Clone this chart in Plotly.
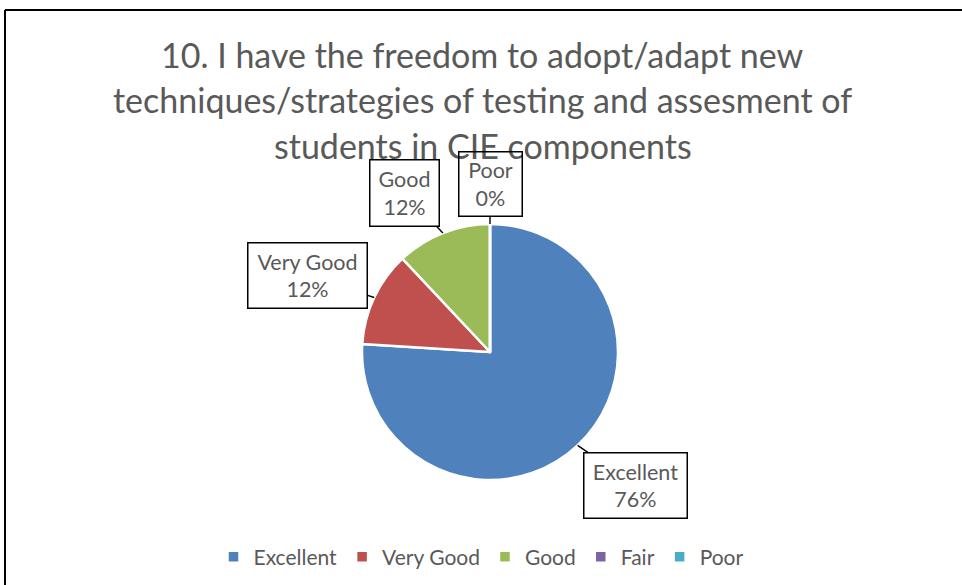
import math
import plotly.graph_objects as go

# Survey responses for statement 10
categories = ["Excellent", "Very Good", "Good", "Fair", "Poor"]
responses = [19, 3, 3, 0, 0]
colors = ["#4F81BD", "#C0504D", "#9BBB59", "#8064A2", "#4BACC6"]
title_lines = [
    "10. I have the freedom to adopt/adapt new",
    "techniques/strategies of testing and assesment of",
    "students in CIE components",
]

W, H = 962, 585
CX, CY, R = 490, 352, 128          # pie centre and radius (px)
FONT = "Lato, Calibri, Carlito, sans-serif"
GREY = "#595959"

# callout placement: (offset x, offset y, box width, box height) in px
callouts = {
    "Excellent": (58, 40, 102, 64),
    "Very Good": (-67, -22, 118, 64),
    "Good": (-38, -40, 68, 65),
    "Poor": (0, -40, 62, 63),
}

fig = go.Figure(go.Pie(
    labels=categories,
    values=responses,
    marker=dict(colors=colors, line=dict(color="white", width=2.5)),
    sort=False,
    direction="clockwise",
    rotation=0,
    textinfo="none",
    hoverinfo="label+percent",
    domain=dict(x=[(CX - R) / W, (CX + R) / W],
                y=[1 - (CY + R) / H, 1 - (CY - R) / H]),
))

total = sum(responses)
annotations = []

# three-line chart title
for i, line in enumerate(title_lines):
    annotations.append(dict(
        x=483 / W, y=1 - (54 + 45.5 * i) / H, xref="paper", yref="paper",
        text=line, showarrow=False, xanchor="center", yanchor="middle",
        font=dict(family=FONT, size=34, color=GREY),
    ))

cum = 0
for cat, val in zip(categories, responses):
    frac = val / total
    mid = (cum + frac / 2) * 2 * math.pi
    cum += frac
    if cat not in callouts:
        continue
    px = CX + R * math.sin(mid)
    py = CY - R * math.cos(mid)
    ox, oy, bw, bh = callouts[cat]
    annotations.append(dict(
        x=px / W, y=1 - py / H, xref="paper", yref="paper",
        text=f"{cat}<br>{round(100 * frac)}%",
        showarrow=True, arrowhead=0, arrowwidth=1.4, arrowcolor="black",
        ax=ox, ay=oy, standoff=0,
        bordercolor="black", borderwidth=1.5, borderpad=0, bgcolor="rgba(255,255,255,0)",
        width=bw, height=bh,
        font=dict(family=FONT, size=21.5, color=GREY),
    ))

fig.update_layout(
    width=W, height=H,
    margin=dict(l=0, r=0, t=0, b=0, autoexpand=False),
    paper_bgcolor="white",
    plot_bgcolor="white",
    annotations=annotations,
    showlegend=True,
    legend=dict(
        orientation="h", x=0.5, xanchor="center",
        y=1 - 557 / H, yanchor="middle",
        font=dict(family=FONT, size=21, color=GREY),
        itemwidth=30, traceorder="normal",
    ),
    shapes=[
        dict(type="line", xref="paper", yref="paper",
             x0=5 / W, x1=1.02, y0=1 - 10 / H, y1=1 - 10 / H,
             line=dict(color="black", width=2)),
        dict(type="line", xref="paper", yref="paper",
             x0=5 / W, x1=5 / W, y0=1 - 10 / H, y1=-0.02,
             line=dict(color="black", width=2)),
    ],
)

fig.write_html("out.html")
